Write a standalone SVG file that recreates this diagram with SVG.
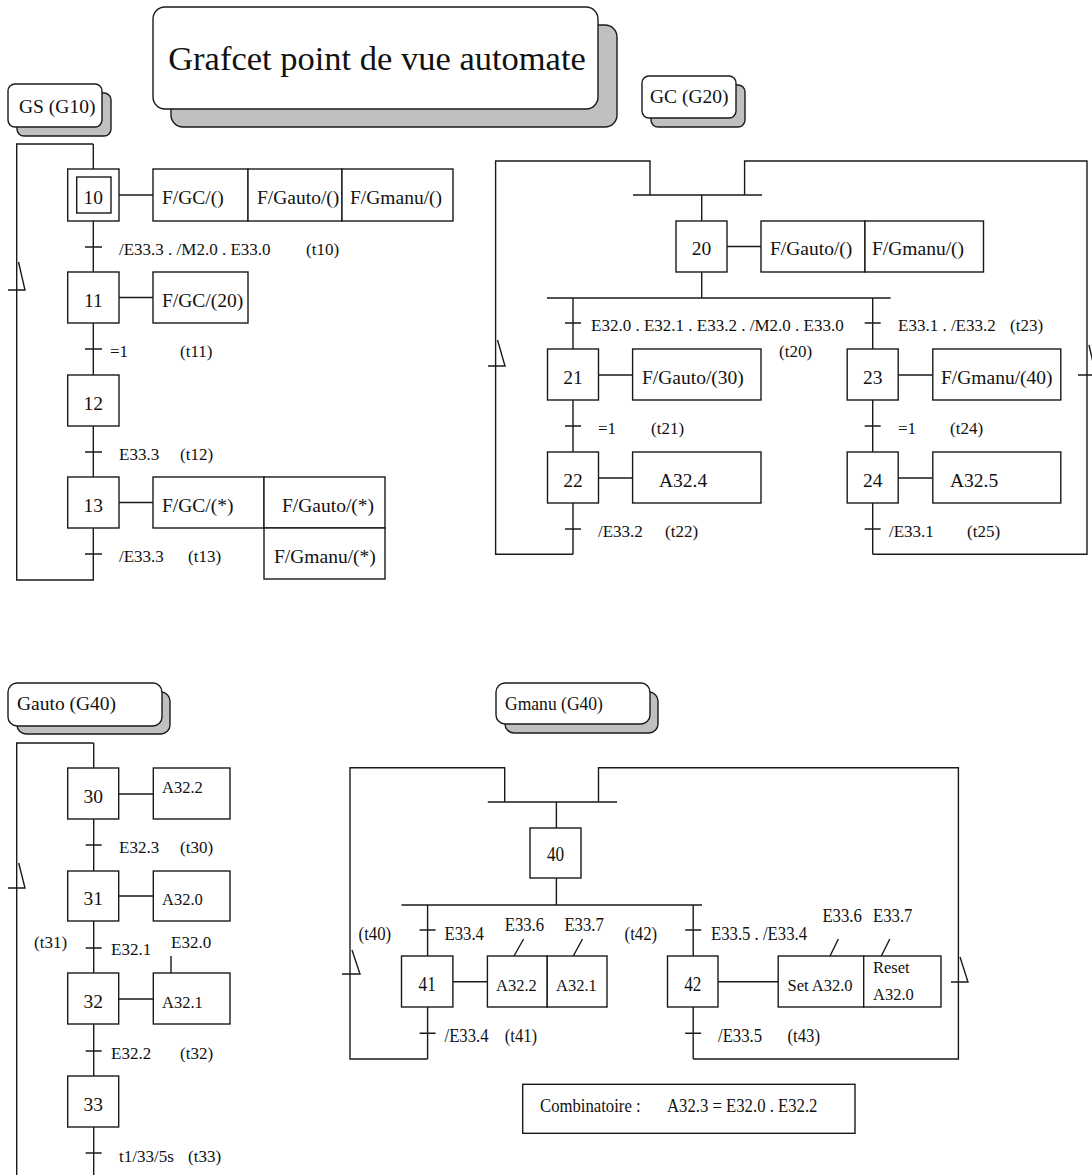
<svg xmlns="http://www.w3.org/2000/svg" width="1092" height="1175" viewBox="0 0 1092 1175">
<style>
.ln{stroke:#1a1a1a;stroke-width:1.4;fill:none}
.bx{fill:#fff;stroke:#1a1a1a;stroke-width:1.4}
.sh{fill:#c0c0c0;stroke:#1a1a1a;stroke-width:1.4}
text{font-family:"Liberation Serif","Times New Roman",serif;fill:#111}
.n{font-size:19.5px;text-anchor:middle}
.a{font-size:19.5px}
.t{font-size:17px}
.s{font-size:16.5px}
.lb{font-size:19.5px}
.ti{font-size:34.5px;text-anchor:middle}
.cn{font-size:19px}
.cs{font-size:21px;text-anchor:middle}
</style>
<rect width="1092" height="1175" fill="#fff"/>

<g id="title">
<rect class="sh" x="171" y="25" width="446" height="102" rx="12"/>
<rect class="bx" x="153" y="7" width="445" height="102" rx="12"/>
<text class="ti" x="377" y="70">Grafcet point de vue automate</text>
</g>
<g id="label-gs">
<rect class="sh" x="17" y="93" width="94" height="43" rx="7"/>
<rect class="bx" x="8" y="84" width="94" height="43" rx="7"/>
<text class="lb" x="19" y="113">GS (G10)</text>
</g>
<g id="label-gc">
<rect class="sh" x="651" y="85" width="94" height="42" rx="7"/>
<rect class="bx" x="642" y="76" width="94" height="42" rx="7"/>
<text class="lb" x="650" y="103">GC (G20)</text>
</g>
<g id="label-gauto">
<rect class="sh" x="17" y="692" width="153" height="42" rx="9"/>
<rect class="bx" x="8" y="683" width="154" height="43" rx="9"/>
<text class="lb" x="17" y="710">Gauto (G40)</text>
</g>
<g id="label-gmanu">
<rect class="sh" x="505" y="692" width="153" height="41" rx="9"/>
<rect class="bx" x="496" y="683" width="154" height="41" rx="9"/>
<text class="lb" transform="translate(505,710) scale(.9,1)" font-size="21px">Gmanu (G40)</text>
</g>

<g id="connectors">
<!-- GS -->
<path class="ln" d="M93.3,144 V580 H16.7 V144 H93.3"/>
<path class="ln" d="M8,290 H25 L18.5,262"/>
<path class="ln" d="M119,195 H153 M119,297.5 H153 M119,502.5 H153"/>
<path class="ln" d="M85,247 H102 M85,349 H102 M85,452 H102 M85,554 H102"/>
<!-- GC -->
<path class="ln" d="M573,554.3 H495.6 V161 H650 V195 M744.6,195 V161 H1087 V554.3 H872.7"/>
<path class="ln" d="M633,195 H762 M701.7,195 V298 M547,298 H890.6"/>
<path class="ln" d="M573,298 V554.3 M872.7,298 V554.3"/>
<path class="ln" d="M727,246.5 H761 M598.5,375 H632.6 M898,375 H932.8 M598.5,478 H632.6 M898,478 H932.8"/>
<path class="ln" d="M565,323 H581 M864.7,323 H880.7 M565,426 H581 M864.7,426 H880.7 M565,529 H581 M864.7,529 H880.7"/>
<path class="ln" d="M488,366 H505 L497.5,340"/>
<path class="ln" d="M1078,375 H1096 L1089,345"/>
<!-- Gauto -->
<path class="ln" d="M93.7,743 V1175 M93.7,743 H16.7 V1175"/>
<path class="ln" d="M8,888 H25 L18.7,863"/>
<path class="ln" d="M118.7,794 H153.3 M118.7,896 H153.3 M118.7,999 H153.3 M171,956 V973"/>
<path class="ln" d="M85.7,845 H101.7 M85.7,948 H101.7 M85.7,1051 H101.7 M85.7,1153 H101.7"/>
<!-- Gmanu -->
<path class="ln" d="M427.6,1059 H350 V767.7 H504.7 V802 M598.5,802 V767.7 H958.4 V1059 H693.2"/>
<path class="ln" d="M487.8,802 H617 M556.4,802 V905 M401.5,905 H702"/>
<path class="ln" d="M427.6,905 V1059 M693.2,905 V1059"/>
<path class="ln" d="M453,981.7 H487.4 M718,981.7 H778.2"/>
<path class="ln" d="M523.6,939 L514,956 M582.5,939 L573.3,956 M838.4,939 L830,956 M889.8,939 L881.3,956"/>
<path class="ln" d="M419.6,930 H435.6 M685.2,930 H701.2 M419.6,1033.3 H435.6 M685.2,1033.3 H701.2"/>
<path class="ln" d="M342,974 H360 L352,950"/>
<path class="ln" d="M951,982 H968 L960,957"/>
</g>

<!-- GS nodes -->
<g id="step-10">
<rect class="bx" x="67.7" y="169" width="51.3" height="52"/>
<rect class="bx" x="76.7" y="177" width="34.3" height="36"/>
<text class="n" x="93.3" y="204">10</text>
</g>
<g id="act-10">
<rect class="bx" x="153" y="169" width="95" height="52"/>
<rect class="bx" x="248" y="169" width="94" height="52"/>
<rect class="bx" x="342" y="169" width="111" height="52"/>
<text class="a" x="162" y="204">F/GC/()</text>
<text class="a" x="257" y="204">F/Gauto/()</text>
<text class="a" x="350" y="204">F/Gmanu/()</text>
</g>
<g id="t10"><text class="t" x="119" y="255">/E33.3 . /M2.0 . E33.0</text><text class="t" x="306" y="255">(t10)</text></g>
<g id="step-11">
<rect class="bx" x="67.7" y="272" width="51.3" height="51"/>
<text class="n" x="93.3" y="306.5">11</text>
</g>
<g id="act-11">
<rect class="bx" x="153" y="272" width="95" height="51"/>
<text class="a" x="162" y="306.5">F/GC/(20)</text>
</g>
<g id="t11"><text class="t" x="110" y="357">=1</text><text class="t" x="180" y="357">(t11)</text></g>
<g id="step-12">
<rect class="bx" x="67.7" y="375" width="51.3" height="51"/>
<text class="n" x="93.3" y="409.5">12</text>
</g>
<g id="t12"><text class="t" x="119" y="460">E33.3</text><text class="t" x="180" y="460">(t12)</text></g>
<g id="step-13">
<rect class="bx" x="67.7" y="477" width="51.3" height="51"/>
<text class="n" x="93.3" y="511.5">13</text>
</g>
<g id="act-13">
<rect class="bx" x="153" y="477" width="111" height="51"/>
<rect class="bx" x="264" y="477" width="121" height="51"/>
<rect class="bx" x="264" y="528" width="121" height="51"/>
<text class="a" x="162" y="511.5">F/GC/(*)</text>
<text class="a" x="282" y="511.5">F/Gauto/(*)</text>
<text class="a" x="274" y="562.5">F/Gmanu/(*)</text>
</g>
<g id="t13"><text class="t" x="119" y="562">/E33.3</text><text class="t" x="188" y="562">(t13)</text></g>

<!-- GC nodes -->
<g id="step-20">
<rect class="bx" x="676" y="221" width="51" height="51"/>
<text class="n" x="701.5" y="255">20</text>
</g>
<g id="act-20">
<rect class="bx" x="761" y="221" width="104" height="51"/>
<rect class="bx" x="865" y="221" width="118.5" height="51"/>
<text class="a" x="770" y="255">F/Gauto/()</text>
<text class="a" x="872" y="255">F/Gmanu/()</text>
</g>
<g id="t20"><text class="t" x="591" y="331">E32.0 . E32.1 . E33.2 . /M2.0 . E33.0</text><text class="t" x="779" y="357">(t20)</text></g>
<g id="t23"><text class="t" x="898" y="331">E33.1 . /E33.2</text><text class="t" x="1010" y="331">(t23)</text></g>
<g id="step-21">
<rect class="bx" x="547.5" y="349" width="51" height="51"/>
<text class="n" x="573" y="383.5">21</text>
</g>
<g id="act-21">
<rect class="bx" x="632.6" y="349" width="128.4" height="51"/>
<text class="a" x="642" y="383.5">F/Gauto/(30)</text>
</g>
<g id="step-23">
<rect class="bx" x="847.2" y="349" width="51" height="51"/>
<text class="n" x="872.7" y="383.5">23</text>
</g>
<g id="act-23">
<rect class="bx" x="932.8" y="349" width="128" height="51"/>
<text class="a" x="941" y="383.5">F/Gmanu/(40)</text>
</g>
<g id="t21"><text class="t" x="598" y="434">=1</text><text class="t" x="651" y="434">(t21)</text></g>
<g id="t24"><text class="t" x="898" y="434">=1</text><text class="t" x="950" y="434">(t24)</text></g>
<g id="step-22">
<rect class="bx" x="547.5" y="452" width="51" height="51"/>
<text class="n" x="573" y="486.5">22</text>
</g>
<g id="act-22">
<rect class="bx" x="632.6" y="452" width="128.4" height="51"/>
<text class="a" x="659" y="486.5">A32.4</text>
</g>
<g id="step-24">
<rect class="bx" x="847.2" y="452" width="51" height="51"/>
<text class="n" x="872.7" y="486.5">24</text>
</g>
<g id="act-24">
<rect class="bx" x="932.8" y="452" width="128" height="51"/>
<text class="a" x="950" y="486.5">A32.5</text>
</g>
<g id="t22"><text class="t" x="598" y="537">/E33.2</text><text class="t" x="665" y="537">(t22)</text></g>
<g id="t25"><text class="t" x="889" y="537">/E33.1</text><text class="t" x="967" y="537">(t25)</text></g>

<!-- Gauto nodes -->
<g id="step-30">
<rect class="bx" x="67.7" y="768" width="51" height="51"/>
<text class="n" x="93.2" y="802.5">30</text>
</g>
<g id="act-30">
<rect class="bx" x="153.3" y="768" width="76.7" height="51"/>
<text class="s" x="162" y="793">A32.2</text>
</g>
<g id="t30"><text class="t" x="119" y="853">E32.3</text><text class="t" x="180" y="853">(t30)</text></g>
<g id="step-31">
<rect class="bx" x="67.7" y="871" width="51" height="50"/>
<text class="n" x="93.2" y="905">31</text>
</g>
<g id="act-31">
<rect class="bx" x="153.3" y="871" width="76.7" height="50"/>
<text class="s" x="162" y="905">A32.0</text>
</g>
<g id="t31"><text class="t" x="34" y="948">(t31)</text><text class="t" x="111" y="955">E32.1</text><text class="t" x="171" y="948">E32.0</text></g>
<g id="step-32">
<rect class="bx" x="67.7" y="973" width="51" height="51"/>
<text class="n" x="93.2" y="1007.5">32</text>
</g>
<g id="act-32">
<rect class="bx" x="153.3" y="973" width="76.7" height="51"/>
<text class="s" x="162" y="1008">A32.1</text>
</g>
<g id="t32"><text class="t" x="111" y="1059">E32.2</text><text class="t" x="180" y="1059">(t32)</text></g>
<g id="step-33">
<rect class="bx" x="67.7" y="1076" width="51" height="51"/>
<text class="n" x="93.2" y="1110.5">33</text>
</g>
<g id="t33"><text class="t" x="119" y="1162">t1/33/5s</text><text class="t" x="188" y="1162">(t33)</text></g>

<!-- Gmanu nodes -->
<g id="step-40">
<rect class="bx" x="530" y="828" width="51" height="50"/>
<text class="cs" transform="translate(555.5,861) scale(.82,1)">40</text>
</g>
<g id="t40-t42">
<text class="cn" transform="translate(358.6,940) scale(.88,1)">(t40)</text>
<text class="cn" transform="translate(444.5,940) scale(.88,1)">E33.4</text>
<text class="cn" transform="translate(504.7,931) scale(.88,1)">E33.6</text>
<text class="cn" transform="translate(564.4,931) scale(.88,1)">E33.7</text>
<text class="cn" transform="translate(624.6,940) scale(.88,1)">(t42)</text>
<text class="cn" transform="translate(711,940) scale(.88,1)">E33.5 . /E33.4</text>
<text class="cn" transform="translate(822.4,922) scale(.88,1)">E33.6</text>
<text class="cn" transform="translate(873,922) scale(.88,1)">E33.7</text>
</g>
<g id="step-41">
<rect class="bx" x="401.5" y="956" width="51.4" height="51"/>
<text class="cs" transform="translate(427.2,991) scale(.82,1)">41</text>
</g>
<g id="act-41">
<rect class="bx" x="487.4" y="956" width="59.8" height="51"/>
<rect class="bx" x="547.2" y="956" width="59.8" height="51"/>
<text class="s" x="496" y="991">A32.2</text>
<text class="s" x="556" y="991">A32.1</text>
</g>
<g id="step-42">
<rect class="bx" x="667.5" y="956" width="50.5" height="51"/>
<text class="cs" transform="translate(692.8,991) scale(.82,1)">42</text>
</g>
<g id="act-42">
<rect class="bx" x="778.2" y="956" width="85.5" height="51"/>
<rect class="bx" x="863.7" y="956" width="77.3" height="51"/>
<text class="s" x="787.5" y="991">Set A32.0</text>
<text class="s" x="873" y="973">Reset</text>
<text class="s" x="873" y="1000">A32.0</text>
</g>
<g id="t41-t43">
<text class="cn" transform="translate(444.5,1042) scale(.88,1)">/E33.4</text>
<text class="cn" transform="translate(504.7,1042) scale(.88,1)">(t41)</text>
<text class="cn" transform="translate(718,1042) scale(.88,1)">/E33.5</text>
<text class="cn" transform="translate(787.5,1042) scale(.88,1)">(t43)</text>
</g>
<g id="combinatoire">
<rect class="bx" x="522.7" y="1084.3" width="332.3" height="49"/>
<text class="cn" transform="translate(540,1112) scale(.88,1)">Combinatoire :</text>
<text class="cn" transform="translate(667,1112) scale(.88,1)">A32.3 = E32.0 . E32.2</text>
</g>
</svg>
